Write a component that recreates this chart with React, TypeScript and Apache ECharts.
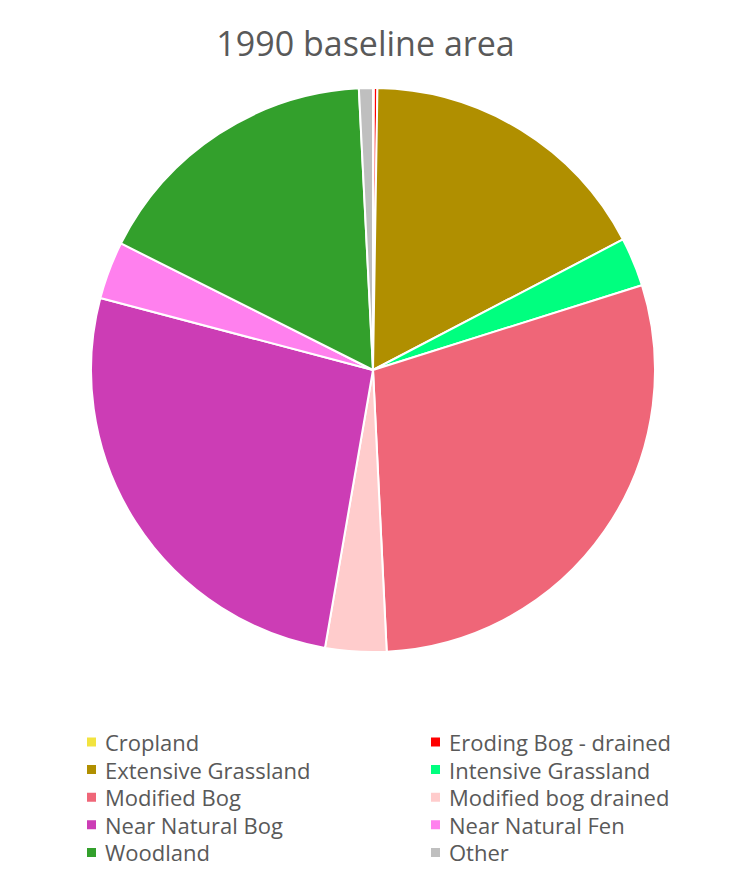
import React, { useEffect, useRef } from "react";
import * as echarts from "echarts";

const categories = [
  "Cropland",
  "Eroding Bog - drained",
  "Extensive Grassland",
  "Intensive Grassland",
  "Modified Bog",
  "Modified bog drained",
  "Near Natural Bog",
  "Near Natural Fen",
  "Woodland",
  "Other",
];
const values = [0.05, 0.2, 17.1, 2.8, 29.1, 3.5, 26.4, 3.3, 16.8, 0.8];
const colors = [
  "#F2E33F",
  "#FF0000",
  "#B08F00",
  "#00FF7F",
  "#EF6678",
  "#FFCCCC",
  "#CC3DB5",
  "#FF80EE",
  "#33A02C",
  "#BFBFBF",
];
const title = "1990 baseline area";

const FONT = "Open Sans";

export default function App() {
  const ref = useRef<HTMLDivElement>(null);
  useEffect(() => {
    if (!ref.current) return;
    const chart = echarts.init(ref.current, undefined, { renderer: "svg" });
    const legendLeft = categories.filter((_, i) => i % 2 === 0);
    const legendRight = categories.filter((_, i) => i % 2 === 1);
    const legendCommon = {
      orient: "vertical" as const,
      top: 730,
      padding: 0,
      itemWidth: 11,
      itemHeight: 11,
      itemGap: 3.6,
      icon: "rect",
      textStyle: {
        fontFamily: FONT,
        fontSize: 22,
        color: "#595959",
        lineHeight: 24,
        padding: [0, 0, 0, 3],
      },
      selectedMode: false,
    };
    chart.setOption({
      animation: false,
      backgroundColor: "#ffffff",
      color: colors,
      title: {
        text: title,
        left: "center",
        top: 21,
        textStyle: { fontFamily: FONT, fontSize: 34, fontWeight: "normal", color: "#595959" },
      },
      legend: [
        { ...legendCommon, left: 85, data: legendLeft },
        { ...legendCommon, left: 429, data: legendRight },
      ],
      series: [
        {
          type: "pie",
          center: [373, 370],
          radius: 282,
          startAngle: 90,
          clockwise: true,
          label: { show: false },
          labelLine: { show: false },
          itemStyle: { borderColor: "#ffffff", borderWidth: 2 },
          data: categories.map((name, i) => ({ name, value: values[i] })),
        },
      ],
    });
    return () => chart.dispose();
  }, []);
  return (
    <div
      ref={ref}
      style={{ position: "fixed", left: 0, top: 0, width: 731, height: 879 }}
    />
  );
}
